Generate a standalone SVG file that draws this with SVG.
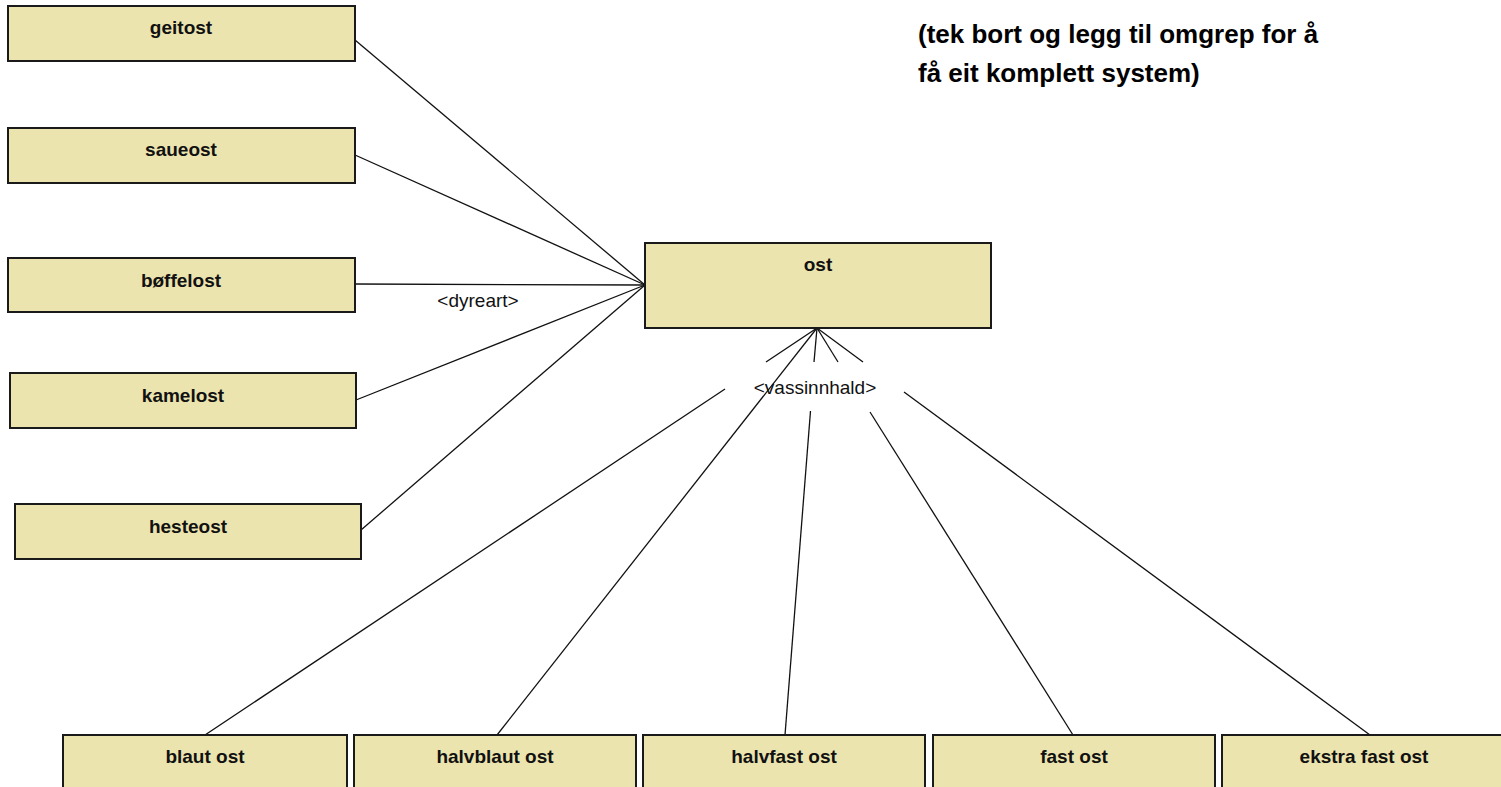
<svg xmlns="http://www.w3.org/2000/svg" width="1501" height="787" viewBox="0 0 1501 787">
<style>
.box{fill:#ECE4AE;stroke:#1a1a1a;stroke-width:2}
.lbl{font-family:"Liberation Sans",Arial,sans-serif;font-weight:bold;font-size:19px;fill:#111;text-anchor:middle}
.conn{stroke:#111;stroke-width:1.3;fill:none}
.edge{font-family:"Liberation Sans",Arial,sans-serif;font-size:19px;fill:#111;text-anchor:middle}
.title{font-family:"Liberation Sans",Arial,sans-serif;font-weight:bold;font-size:26px;fill:#000}
</style>
<rect width="1501" height="787" fill="#fff"/>
<g id="title">
<text class="title" x="918" y="43">(tek bort og legg til omgrep for å</text>
<text class="title" x="918" y="82">få eit komplett system)</text>
</g>
<g id="connectors">
<line class="conn" x1="355" y1="40" x2="645" y2="285"/>
<line class="conn" x1="355" y1="155" x2="645" y2="285"/>
<line class="conn" x1="355" y1="284" x2="645" y2="285"/>
<line class="conn" x1="356" y1="400" x2="645" y2="285"/>
<line class="conn" x1="361" y1="530" x2="645" y2="285"/>
<text class="edge" x="478" y="307">&lt;dyreart&gt;</text>
<line class="conn" x1="817" y1="328" x2="766" y2="362"/>
<line class="conn" x1="725" y1="389" x2="205" y2="735"/>
<line class="conn" x1="817" y1="328" x2="497" y2="735"/>
<line class="conn" x1="817" y1="328" x2="814" y2="362"/>
<line class="conn" x1="810.5" y1="411" x2="785" y2="735"/>
<line class="conn" x1="817" y1="328" x2="838" y2="362"/>
<line class="conn" x1="870" y1="412" x2="1073" y2="735"/>
<line class="conn" x1="817" y1="328" x2="863" y2="362"/>
<line class="conn" x1="904" y1="392" x2="1370" y2="735"/>
<text class="edge" x="815" y="394">&lt;vassinnhald&gt;</text>
</g>
<g id="geitost"><rect class="box" x="8" y="6" width="347" height="55"/><text class="lbl" x="181" y="34">geitost</text></g>
<g id="saueost"><rect class="box" x="8" y="128" width="347" height="55"/><text class="lbl" x="181" y="156">saueost</text></g>
<g id="boffelost"><rect class="box" x="8" y="258" width="347" height="54"/><text class="lbl" x="181" y="287">bøffelost</text></g>
<g id="kamelost"><rect class="box" x="10" y="373" width="346" height="55"/><text class="lbl" x="183" y="402">kamelost</text></g>
<g id="hesteost"><rect class="box" x="15" y="504" width="346" height="55"/><text class="lbl" x="188" y="533">hesteost</text></g>
<g id="ost"><rect class="box" x="645" y="243" width="346" height="85"/><text class="lbl" x="818" y="271">ost</text></g>
<g id="blaut-ost"><rect class="box" x="63" y="735" width="284" height="60"/><text class="lbl" x="205" y="763">blaut ost</text></g>
<g id="halvblaut-ost"><rect class="box" x="354" y="735" width="282" height="60"/><text class="lbl" x="495" y="763">halvblaut ost</text></g>
<g id="halvfast-ost"><rect class="box" x="643" y="735" width="282" height="60"/><text class="lbl" x="784" y="763">halvfast ost</text></g>
<g id="fast-ost"><rect class="box" x="933" y="735" width="282" height="60"/><text class="lbl" x="1074" y="763">fast ost</text></g>
<g id="ekstra-fast-ost"><rect class="box" x="1222" y="735" width="282" height="60"/><text class="lbl" x="1364" y="763">ekstra fast ost</text></g>
</svg>
